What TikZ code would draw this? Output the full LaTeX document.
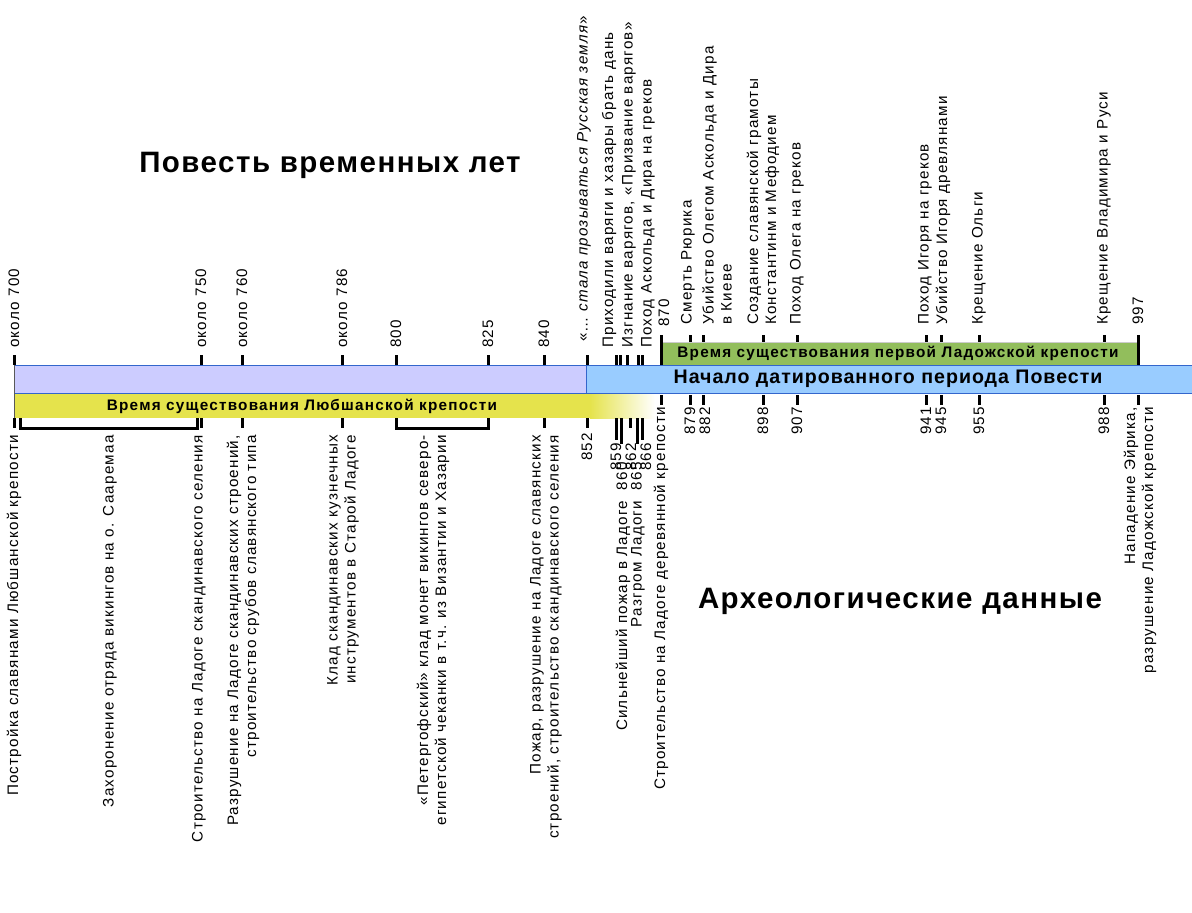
\documentclass[tikz,border=0pt]{standalone}
\usepackage{fontspec}
\setmainfont[LetterSpace=5]{Liberation Sans}
\newfontfamily\labfont[LetterSpace=8]{Liberation Sans}
\definecolor{lav}{RGB}{204,204,255}
\definecolor{lblue}{RGB}{153,204,255}
\definecolor{bord}{RGB}{51,102,204}
\definecolor{yel}{RGB}{229,227,76}
\definecolor{grn}{RGB}{146,190,92}
\begin{document}
\begin{tikzpicture}[x=1pt,y=-1pt,
  tk/.style={line width=3pt},
  lab/.style={font=\labfont\fontsize{15.2}{18}\selectfont, inner sep=0pt},
  up/.style={lab, rotate=90, anchor=west, align=left},
  dn/.style={lab, rotate=90, anchor=east, align=right},
  big/.style={font=\bfseries\fontsize{29.5}{36}\selectfont, inner sep=0pt},
  barlab/.style={font=\labfont\bfseries\fontsize{15.3}{18}\selectfont, inner sep=0pt}]
\useasboundingbox (0,0) rectangle (1192,913);
% bars
\fill[lav] (14,365) rectangle (586,393);
\fill[lblue] (586,365) rectangle (1192,393);
\fill[yel] (14,393) rectangle (590,418);
\shade[left color=yel,right color=white] (590,393) rectangle (655,418);
\fill[grn] (661,342) rectangle (1138,365);
\draw[gray!40] (661,342) -- (1138,342);
\draw[bord, line width=1pt] (1192,365) -- (14,365) (14,393) -- (1192,393) (586,365) -- (586,393);
\draw[gray!70!black, line width=1pt] (14,355) -- (14,428);
% bar labels
\node[barlab] (ylab) at (302,406) {Время существования Любшанской крепости};
\node[barlab] (glab) at (898,353) {Время существования первой Ладожской крепости};
\node[font=\bfseries\fontsize{19.6}{22}\selectfont, inner sep=0pt] (blab) at (888,379) {Начало датированного периода Повести};
\node[big] (t1) at (330,165) {Повесть временных лет};
\node[big] (t2) at (900,601) {Археологические данные};
% ticks above main bar
\foreach \x in {14,201,242,342,396,488,544,587,616,620,627,638,642}
  \draw[tk] (\x,355) -- (\x,365);
% ticks below yellow bar
\foreach \x in {14,201,242,342,544,587,630}
  \draw[tk] (\x,418) -- (\x,428);
\draw[tk] (616,418) -- (616,440);
\draw[tk] (621,418) -- (621,444);
\draw[tk] (637,418) -- (637,444);
\draw[tk] (642,418) -- (642,440);
% brackets
\draw[tk] (20,418) -- (20,428) -- (197,428) -- (197,418);
\draw[tk] (396,418) -- (396,428) -- (488,428) -- (488,418);
% ticks above green bar
\foreach \x in {690,703,763,797,926,941,979,1104}
  \draw[tk] (\x,335) -- (\x,342);
\draw[tk] (661,335) -- (661,365);
\draw[tk] (1138,335) -- (1138,365);
% ticks below blue bar
\foreach \x in {661,690,703,763,797,926,941,979,1104,1138}
  \draw[tk] (\x,395) -- (\x,405);
% upper labels
\node[up] (u700) at (14,348) {около 700};
\node[up] (u750) at (201,348) {около 750};
\node[up] (u760) at (242,348) {около 760};
\node[up] (u786) at (342,348) {около 786};
\node[up] (u800) at (396,348) {800};
\node[up] (u825) at (488,348) {825};
\node[up] (u840) at (544,348) {840};
\node[up] (u852) at (584,342) {«… \textit{стала прозываться Русская земля}»};
\node[up] (u859) at (609,348) {Приходили варяги и хазары брать дань};
\node[up] (u862) at (629,348) {Изгнание варягов, «Призвание варягов»};
\node[up] (u866) at (648,348) {Поход Аскольда и Дира на греков};
\node[up] (u870) at (664,327) {870};
\node[up] (u879) at (688,325) {Смерть Рюрика};
\node[up] (u882) at (717,325) {Убийство Олегом Аскольда и Дира\\в Киеве};
\node[up] (u898) at (763,325) {Создание славянской грамоты\\Константинм и Мефодием};
\node[up] (u907) at (797,325) {Поход Олега на греков};
\node[up] (u941) at (925,325) {Поход Игоря на греков};
\node[up] (u945) at (943,325) {Убийство Игоря древлянами};
\node[up] (u955) at (979,325) {Крещение Ольги};
\node[up] (u988) at (1104,325) {Крещение Владимира и Руси};
\node[up] (u997) at (1138,325) {997};
% lower labels
\node[dn] (d700) at (14,435) {Постройка славянами Любшанской крепости};
\node[dn] (d720) at (110,435) {Захоронение отряда викингов на о. Сааремаа};
\node[dn] (d750) at (199,435) {Строительство на Ладоге скандинавского селения};
\node[dn] (d760) at (243,435) {Разрушение на Ладоге скандинавских строений,\\строительство срубов славянского типа};
\node[dn] (d786) at (343,435) {Клад скандинавских кузнечных\\инструментов в Старой Ладоге};
\node[dn] (d800) at (433,435) {«Петергофский» клад монет викингов северо-\\египетской чеканки в т.ч. из Византии и Хазарии};
\node[dn] (d840) at (546,435) {Пожар, разрушение на Ладоге славянских\\строений, строительство скандинавского селения};
\node[dn] (d852) at (587,433) {852};
\node[dn] (d859) at (616,443) {859};
\node[dn] (d860) at (623,462) {Сильнейший пожар в Ладоге\ \ 860};
\node[dn] (d862) at (631,443) {862};
\node[dn] (d865) at (638,462) {Разгром Ладоги\ \ 865};
\node[dn] (d866) at (646,443) {866};
\node[dn] (d870) at (661,407) {Строительство на Ладоге деревянной крепости};
\node[dn] (d879) at (690,407) {879};
\node[dn] (d882) at (705,407) {882};
\node[dn] (d898) at (763,407) {898};
\node[dn] (d907) at (797,407) {907};
\node[dn] (d941) at (926,407) {941};
\node[dn] (d945) at (941,407) {945};
\node[dn] (d955) at (979,407) {955};
\node[dn] (d988) at (1104,407) {988};
\node[dn] (d997) at (1140,407) {Нападение Эйрика,\\разрушение Ладожской крепости};
\end{tikzpicture}
\end{document}
